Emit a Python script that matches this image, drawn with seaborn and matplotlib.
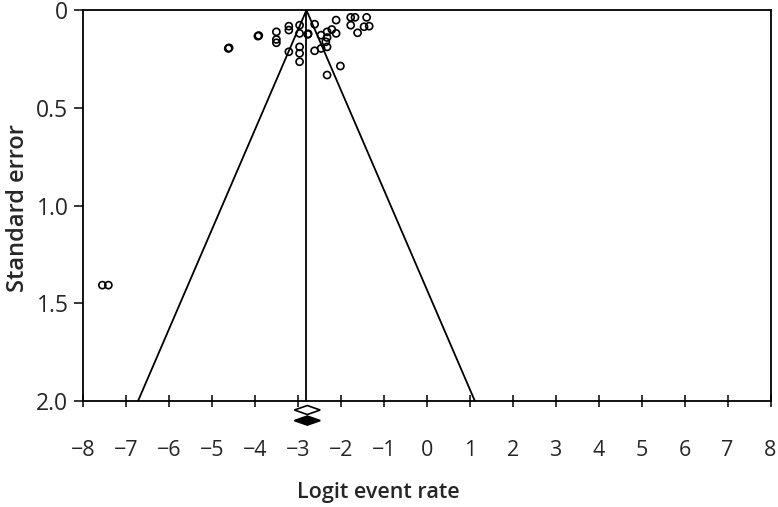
import numpy as np
import pandas as pd
import seaborn as sns
import matplotlib.pyplot as plt

# study estimates
logit_rate = [-4.62, -4.60, -3.93, -3.91, -3.50, -3.50, -3.50, -3.21, -3.21, -3.21,
              -2.96, -2.96, -2.96, -2.96, -2.96, -2.77, -2.76, -2.61, -2.61, -2.46,
              -2.46, -2.35, -2.32, -2.32, -2.32, -2.32, -2.21, -2.11, -2.11, -2.01,
              -1.77, -1.67, -1.77, -1.61, -1.46, -1.40, -1.34, -7.55, -7.41]
std_error = [0.196, 0.193, 0.133, 0.130, 0.111, 0.150, 0.167, 0.082, 0.102, 0.213,
             0.077, 0.119, 0.188, 0.221, 0.264, 0.124, 0.121, 0.072, 0.208, 0.128,
             0.196, 0.162, 0.111, 0.140, 0.188, 0.332, 0.099, 0.051, 0.119, 0.286,
             0.037, 0.037, 0.077, 0.116, 0.085, 0.037, 0.082, 1.407, 1.407]

pooled = -2.80          # centre of the funnel
pooled_obs = [-2.78, -3.08, -2.48]   # estimate, lower, upper (open diamond)
pooled_adj = [-2.78, -3.08, -2.48]   # trim-and-fill (filled diamond)
se_max = 2.0

df = pd.DataFrame({'x': logit_rate, 'se': std_error})

sns.set_style('white')
plt.rcParams['font.family'] = ['Open Sans', 'DejaVu Sans']

fig = plt.figure(figsize=(7.78, 5.07), dpi=100)
ax = fig.add_axes([0.1067, 0.209, 0.8837, 0.771])

# funnel
ax.plot([pooled - 1.96 * se_max, pooled, pooled + 1.96 * se_max], [se_max, 0, se_max],
        color='black', lw=1.3)
ax.plot([pooled, pooled], [0, se_max], color='black', lw=1.3)

sns.scatterplot(data=df, x='x', y='se', ax=ax, marker='o', s=26,
                facecolor='none', edgecolor='black', linewidth=1.2, zorder=3)

# pooled estimates below the axis
h = 0.023
for est, y0, fill in [(pooled_obs, 2.046, 'white'), (pooled_adj, 2.10, 'black')]:
    ax.fill([est[1], est[0], est[2], est[0]], [y0, y0 - h, y0, y0 + h],
            facecolor=fill, edgecolor='black', lw=1.2, clip_on=False, zorder=4)

ax.set_xlim(-8, 8)
ax.set_ylim(2.0, 0)
ax.set_xticks(range(-8, 9))
ax.set_yticks([0, 0.5, 1.0, 1.5, 2.0])
ax.set_yticklabels(['0', '0.5', '1.0', '1.5', '2.0'])

for s in ax.spines.values():
    s.set_color('black')
    s.set_linewidth(1.3)

ax.tick_params(axis='x', direction='inout', length=8, width=1.3, labelsize=15.5, pad=24,
               bottom=True)
ax.tick_params(axis='y', direction='out', length=6.5, width=1.3, labelsize=16.5, pad=4,
               left=True)

ax.set_xlabel('Logit event rate', fontsize=15.5, fontweight='semibold')
ax.set_ylabel('Standard error', fontsize=17, fontweight='semibold')
ax.xaxis.label.set_va('center')
ax.yaxis.label.set_va('center')
ax.xaxis.set_label_coords(0.43, -0.233)
ax.yaxis.set_label_coords(-0.094, 0.494)

fig.savefig('out.png', dpi=100)
